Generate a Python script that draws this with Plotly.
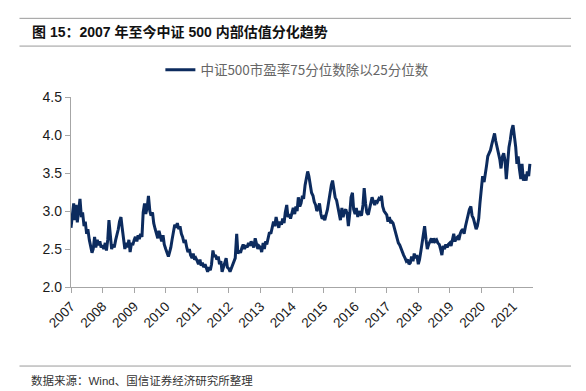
import pandas as pd
import plotly.graph_objects as go

# Semi-monthly readings (1st and 15th of each month), 2007-01 .. 2021-07
v2007 = [2.78, 2.95, 3.10, 2.88, 3.08, 2.85, 3.00, 3.16, 2.92, 2.98, 2.80, 2.86,
         2.70, 2.76, 2.62, 2.55, 2.45, 2.50, 2.66, 2.52, 2.62, 2.55, 2.60, 2.52]
v2008 = [2.55, 2.50, 2.58, 2.48, 2.62, 2.88, 2.62, 2.50, 2.56, 2.52, 2.62, 2.68,
         2.76, 2.86, 2.92, 2.78, 2.62, 2.50, 2.58, 2.52, 2.62, 2.46, 2.58, 2.55]
v2009 = [2.62, 2.66, 2.60, 2.68, 2.63, 2.70, 2.66, 2.98, 3.10, 2.96, 3.05, 3.20,
         3.00, 2.94, 2.98, 2.84, 2.76, 2.70, 2.64, 2.74, 2.66, 2.60, 2.68, 2.56]
v2010 = [2.50, 2.44, 2.40, 2.46, 2.52, 2.62, 2.72, 2.82, 2.78, 2.84, 2.76, 2.80,
         2.70, 2.66, 2.58, 2.62, 2.52, 2.46, 2.50, 2.42, 2.38, 2.44, 2.36, 2.38]
v2011 = [2.34, 2.30, 2.36, 2.28, 2.32, 2.26, 2.30, 2.24, 2.20, 2.26, 2.22, 2.30,
         2.48, 2.40, 2.42, 2.36, 2.40, 2.30, 2.34, 2.20, 2.28, 2.34, 2.38, 2.26]
v2012 = [2.24, 2.20, 2.26, 2.30, 2.34, 2.38, 2.70, 2.44, 2.48, 2.45, 2.52, 2.56,
         2.50, 2.55, 2.52, 2.58, 2.54, 2.60, 2.56, 2.52, 2.64, 2.56, 2.50, 2.54]
v2013 = [2.52, 2.46, 2.58, 2.50, 2.60, 2.56, 2.66, 2.72, 2.70, 2.78, 2.86, 2.80,
         2.92, 2.84, 2.78, 2.86, 2.82, 2.90, 2.84, 2.98, 3.08, 2.92, 2.96, 2.90]
v2014 = [2.98, 3.04, 2.96, 3.06, 3.00, 3.18, 3.06, 3.10, 3.20, 3.16, 3.34, 3.44,
         3.52, 3.46, 3.36, 3.24, 3.20, 3.12, 3.08, 3.00, 3.04, 3.10, 2.96, 2.90]
v2015 = [2.92, 2.88, 2.96, 3.02, 3.12, 3.24, 3.34, 3.40, 3.28, 3.18, 3.14, 3.06,
         2.96, 2.88, 3.04, 2.92, 3.00, 3.02, 2.96, 2.80, 2.98, 3.18, 3.24, 3.02]
v2016 = [2.96, 3.04, 2.92, 3.00, 2.96, 2.94, 3.08, 3.30, 3.10, 2.98, 2.95, 3.04,
         3.12, 3.18, 3.12, 3.08, 3.14, 3.12, 3.16, 3.14, 3.20, 3.06, 3.00, 2.98]
v2017 = [2.95, 2.86, 2.92, 2.84, 2.86, 2.84, 2.76, 2.68, 2.62, 2.58, 2.55, 2.50,
         2.46, 2.42, 2.38, 2.34, 2.36, 2.30, 2.32, 2.40, 2.34, 2.44, 2.38, 2.42]
v2018 = [2.30, 2.36, 2.48, 2.58, 2.66, 2.80, 2.62, 2.50, 2.56, 2.60, 2.64, 2.58,
         2.64, 2.60, 2.62, 2.58, 2.56, 2.50, 2.42, 2.54, 2.50, 2.56, 2.52, 2.56]
v2019 = [2.58, 2.54, 2.62, 2.70, 2.60, 2.64, 2.66, 2.62, 2.70, 2.74, 2.76, 2.70,
         2.80, 2.88, 2.96, 3.02, 3.06, 2.94, 2.90, 2.84, 2.76, 2.80, 2.90, 3.10]
v2020 = [3.30, 3.46, 3.38, 3.52, 3.60, 3.72, 3.76, 3.80, 3.88, 3.96, 4.02, 3.92,
         3.84, 3.78, 3.68, 3.56, 3.72, 3.76, 3.66, 3.42, 3.70, 3.84, 3.94, 4.06]
v2021 = [4.13, 4.00, 3.84, 3.62, 3.72, 3.56, 3.42, 3.62, 3.40, 3.48, 3.40, 3.52,
         3.46, 3.62]

values = (v2007 + v2008 + v2009 + v2010 + v2011 + v2012 + v2013 + v2014 +
          v2015 + v2016 + v2017 + v2018 + v2019 + v2020 + v2021)
dates = pd.date_range("2007-01-01", periods=len(values), freq="SMS")

years = list(range(2007, 2022))
tick_vals = [f"{y}-01-01" for y in years]
tick_text = [str(y) for y in years]

series_name = "中证500市盈率75分位数除以25分位数"
title_text = "<b>图 15：2007 年至今中证 500 内部估值分化趋势</b>"
source_text = "数据来源：Wind、国信证券经济研究所整理"

LINE = "#0C2B5E"
AXIS = "#A6A6A6"
FONT = "Liberation Sans, Arial, Noto Sans CJK SC, sans-serif"

fig = go.Figure()
fig.add_trace(go.Scatter(
    x=dates, y=values, mode="lines", name=series_name,
    line=dict(color=LINE, width=3),
))

fig.update_layout(
    width=586, height=391,
    margin=dict(l=71, r=53, t=97, b=104),
    paper_bgcolor="white", plot_bgcolor="white",
    font=dict(family=FONT, size=14, color="#1a1a1a"),
    showlegend=True,
    legend=dict(
        orientation="h", x=0.49, xanchor="center", y=1.142, yanchor="middle",
        font=dict(family="Noto Sans CJK SC, sans-serif", size=13.5, color="#666666"),
        bgcolor="rgba(0,0,0,0)",
    ),
    xaxis=dict(
        type="date", range=["2007-01-01", "2021-08-20"],
        tickmode="array", tickvals=tick_vals, ticktext=tick_text,
        tickangle=-45, tickfont=dict(size=13.5),
        showgrid=False, zeroline=False,
        showline=True, linecolor=AXIS, linewidth=1.3,
        ticks="outside", ticklen=5, tickcolor=AXIS, tickwidth=1.3,
    ),
    yaxis=dict(
        range=[2.0, 4.5], dtick=0.5, tick0=2.0, tickformat=".1f",
        showgrid=False, zeroline=False,
        showline=True, linecolor=AXIS, linewidth=1.3,
        ticks="outside", ticklen=5, tickcolor=AXIS, tickwidth=1.3,
        tickfont=dict(size=14),
    ),
)

# header/footer rules
for yv in (1.414, 1.268, -0.416):
    fig.add_shape(type="line", xref="paper", yref="paper",
                  x0=-0.1115, x1=1.0823, y0=yv, y1=yv,
                  line=dict(color="#9A9A9A", width=1))

fig.add_annotation(text=title_text, xref="paper", yref="paper",
                   x=-0.0887, y=1.342, xanchor="left", yanchor="middle",
                   showarrow=False,
                   font=dict(family="Liberation Sans, Noto Sans CJK SC, sans-serif",
                             size=14, color="#111111"))
fig.add_annotation(text=source_text, xref="paper", yref="paper",
                   x=-0.091, y=-0.49, xanchor="left", yanchor="middle",
                   showarrow=False,
                   font=dict(family="Liberation Sans, Noto Sans CJK SC, sans-serif",
                             size=11.5, color="#333333"))

fig.write_html("out.html",
               config={"displayModeBar": False},
               post_script="document.body.style.margin='0';document.body.style.padding='0';")
